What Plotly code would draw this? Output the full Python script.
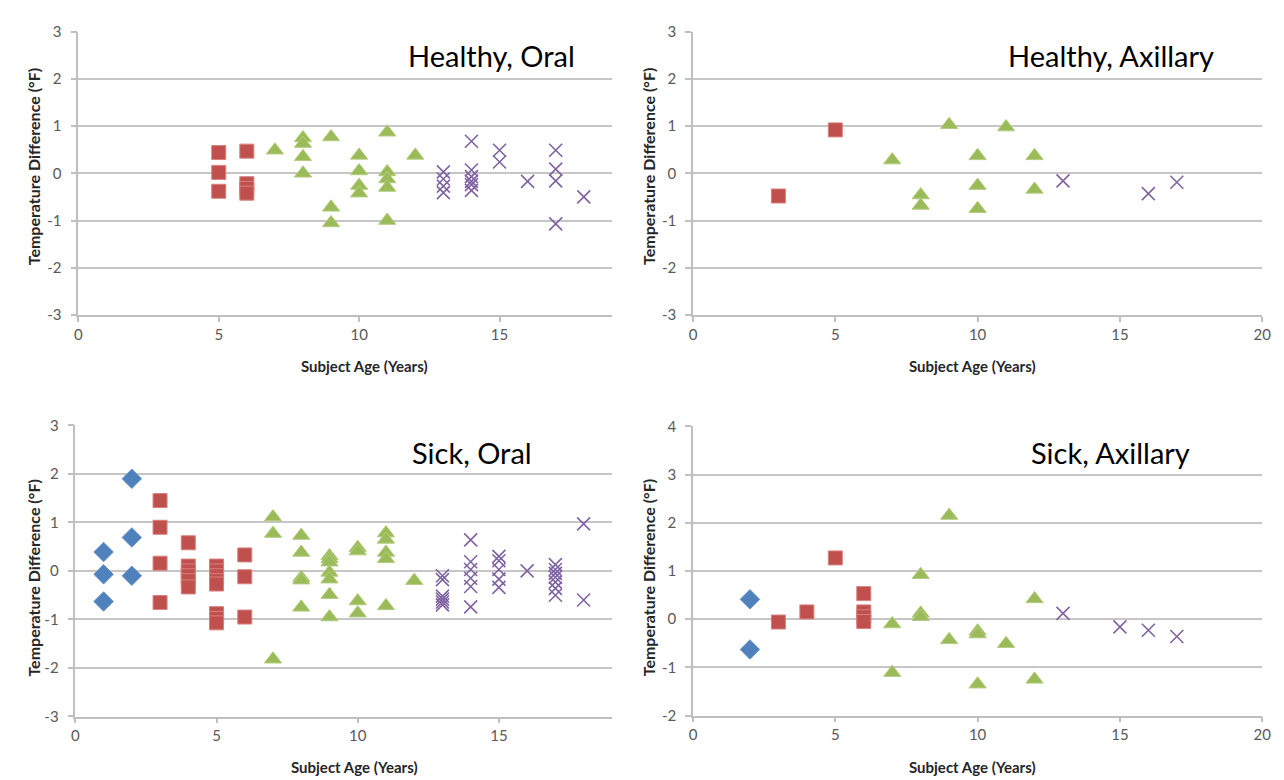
import plotly.graph_objects as go

# ---------------- DATA ----------------
# Healthy, Oral
ho_red_age = [5, 5, 5, 6, 6, 6, 6]
ho_red_diff = [0.44, 0.02, -0.38, 0.47, -0.22, -0.32, -0.42]
ho_green_age = [7, 8, 8, 8, 8, 9, 9, 9, 10, 10, 10, 10, 11, 11, 11, 11, 11, 12]
ho_green_diff = [0.49, 0.75, 0.63, 0.35, 0.0, 0.77, -0.72, -1.05, 0.38, 0.05, -0.26, -0.42,
                 0.87, 0.03, -0.12, -0.3, -1.0, 0.38]
ho_purple_age = [13, 13, 13, 13, 14, 14, 14, 14, 14, 14, 15, 15, 16, 17, 17, 17, 17, 18]
ho_purple_diff = [0.03, -0.12, -0.27, -0.41, 0.68, 0.07, -0.07, -0.17, -0.24, -0.36,
                  0.49, 0.24, -0.17, 0.49, 0.09, -0.16, -1.07, -0.5]

# Healthy, Axillary
ha_red_age = [3, 5]
ha_red_diff = [-0.48, 0.92]
ha_green_age = [7, 8, 8, 9, 10, 10, 10, 11, 12, 12]
ha_green_diff = [0.28, -0.46, -0.68, 1.03, 0.37, -0.26, -0.75, 0.98, 0.37, -0.34]
ha_purple_age = [13, 16, 17]
ha_purple_diff = [-0.16, -0.43, -0.19]

# Sick, Oral
so_blue_age = [1, 1, 1, 2, 2, 2]
so_blue_diff = [0.39, -0.07, -0.63, 1.9, 0.69, -0.1]
so_red_age = [3, 3, 3, 3, 4, 4, 4, 4, 4, 4, 5, 5, 5, 5, 5, 5, 5, 5, 6, 6, 6]
so_red_diff = [1.45, 0.9, 0.16, -0.65, 0.58, 0.1, 0.0, -0.1, -0.2, -0.33,
               0.1, 0.0, -0.1, -0.2, -0.27, -0.88, -0.98, -1.07, 0.33, -0.12, -0.95]
so_green_age = [7, 7, 7, 8, 8, 8, 8, 8, 9, 9, 9, 9, 9, 9, 9, 10, 10, 10, 10,
                11, 11, 11, 11, 11, 12]
so_green_diff = [1.11, 0.77, -1.82, 0.73, 0.38, -0.14, -0.19, -0.75,
                 0.31, 0.25, 0.18, -0.03, -0.17, -0.49, -0.95,
                 0.48, 0.41, -0.62, -0.87,
                 0.78, 0.65, 0.38, 0.25, -0.72, -0.2]
so_purple_age = [13, 13, 13, 13, 13, 13, 14, 14, 14, 14, 14, 14, 15, 15, 15, 15, 15, 16,
                 17, 17, 17, 17, 17, 17, 17, 18, 18]
so_purple_diff = [-0.1, -0.18, -0.52, -0.58, -0.64, -0.7,
                  0.64, 0.19, 0.03, -0.15, -0.32, -0.74,
                  0.3, 0.21, 0.03, -0.17, -0.34, 0.0,
                  0.13, 0.03, -0.05, -0.13, -0.23, -0.36, -0.5, 0.97, -0.6]

# Sick, Axillary
sa_blue_age = [2, 2]
sa_blue_diff = [0.41, -0.63]
sa_red_age = [3, 4, 5, 6, 6, 6, 6]
sa_red_diff = [-0.06, 0.15, 1.27, 0.53, 0.15, 0.05, -0.05]
sa_green_age = [7, 7, 8, 8, 8, 9, 9, 10, 10, 10, 11, 12, 12]
sa_green_diff = [-0.1, -1.11, 0.92, 0.12, 0.05, 2.15, -0.43, -0.25, -0.31, -1.35, -0.51, 0.42, -1.25]
sa_purple_age = [13, 15, 16, 17]
sa_purple_diff = [0.12, -0.16, -0.23, -0.36]

panel_titles = ["Healthy, Oral", "Healthy, Axillary", "Sick, Oral", "Sick, Axillary"]
x_ticks = [0, 5, 10, 15, 20]
y_ticks_a = [-3, -2, -1, 0, 1, 2, 3]
y_ticks_b = [-2, -1, 0, 1, 2, 3, 4]
x_title = "Subject Age (Years)"
y_title = "Temperature Difference (°F)"

# ---------------- STYLE ----------------
BLUE = "#4F81BD"
RED = "#C0504D"
GREEN = "#9BBB59"
PURPLE = "#8064A2"
FONT = "Lato"

styles = {
    "blue": dict(symbol="diamond", size=15, color=BLUE, line=dict(color="#6D95C9", width=1)),
    "red": dict(symbol="square", size=14, color=RED, line=dict(color="#D8807E", width=1)),
    "green": dict(symbol="triangle-up", size=15, color=GREEN, line=dict(color="#B3CC80", width=1)),
    "purple": dict(symbol="x-thin", size=13, color=PURPLE, line=dict(color=PURPLE, width=1.6)),
}

panels = [
    ("x", "y", [("red", ho_red_age, ho_red_diff), ("green", ho_green_age, ho_green_diff),
                ("purple", ho_purple_age, ho_purple_diff)]),
    ("x2", "y2", [("red", ha_red_age, ha_red_diff), ("green", ha_green_age, ha_green_diff),
                  ("purple", ha_purple_age, ha_purple_diff)]),
    ("x3", "y3", [("blue", so_blue_age, so_blue_diff), ("red", so_red_age, so_red_diff),
                  ("green", so_green_age, so_green_diff), ("purple", so_purple_age, so_purple_diff)]),
    ("x4", "y4", [("blue", sa_blue_age, sa_blue_diff), ("red", sa_red_age, sa_red_diff),
                  ("green", sa_green_age, sa_green_diff), ("purple", sa_purple_age, sa_purple_diff)]),
]

fig = go.Figure()
for xa, ya, series in panels:
    for key, ages, diffs in series:
        fig.add_trace(go.Scatter(x=ages, y=diffs, mode="markers", xaxis=xa, yaxis=ya,
                                 marker=styles[key], showlegend=False, hoverinfo="x+y"))

W, H = 1284, 780
def px_x(a, b):
    return [a / W, b / W]
def px_y(top, bottom):
    return [1 - bottom / H, 1 - top / H]

domains = [
    (px_x(67, 606), px_y(14, 304), [0, 19], y_ticks_a),
    (px_x(688, 1263), px_y(14, 304), [0, 20], y_ticks_a),
    (px_x(64, 606), px_y(417, 715), [0, 19], y_ticks_a),
    (px_x(688, 1263), px_y(418, 714), [0, 20], y_ticks_b),
]

GRID = "#C6C6C6"
layout = dict(
    width=W, height=H, margin=dict(l=0, r=0, t=0, b=0),
    paper_bgcolor="white", plot_bgcolor="white",
    font=dict(family=FONT, color="#595959", size=13),
)
for i, (dx, dy, xr, yt) in enumerate(domains):
    n = "" if i == 0 else str(i + 1)
    layout["xaxis" + n] = dict(
        domain=dx, range=xr, anchor="y" + n, tickmode="array",
        tickvals=[t for t in x_ticks if t <= xr[1]],
        showgrid=False, zeroline=False, showline=True, linecolor="#BFBFBF", linewidth=1.5,
        ticks="outside", ticklen=5, tickcolor="#BFBFBF", tickwidth=1.5,
        tickfont=dict(family=FONT, size=15, color="#595959"), fixedrange=True,
    )
    layout["yaxis" + n] = dict(
        domain=dy, range=[yt[0], yt[-1]], anchor="x" + n, tickmode="array",
        tickvals=yt, ticktext=[str(v) for v in yt], ticklabelstandoff=6,
        showgrid=True, gridcolor=GRID, gridwidth=1.5, zeroline=False,
        showline=True, linecolor="#BFBFBF", linewidth=1.5,
        ticks="outside", ticklen=6, tickcolor="#BFBFBF", tickwidth=1.5,
        tickfont=dict(family=FONT, size=15, color="#595959"), fixedrange=True,
    )
fig.update_layout(**layout)

# panel titles
title_pos = [(484, 38), (1110, 38), (465, 445), (1110, 445)]
for t, (cx, cy) in zip(panel_titles, title_pos):
    fig.add_annotation(text=t, x=cx / W, y=1 - cy / H, xref="paper", yref="paper",
                       xanchor="center", yanchor="middle", showarrow=False,
                       font=dict(family=FONT, size=29, color="#000000"))

# axis titles
xt_pos = [(356, 356), (970, 356), (346, 767), (970, 767)]
for cx, cy in xt_pos:
    fig.add_annotation(text="<b>" + x_title + "</b>", x=cx / W, y=1 - cy / H, xref="paper",
                       yref="paper", xanchor="center", yanchor="middle", showarrow=False,
                       font=dict(family=FONT, size=15, color="#262626"))
yt_pos = [(22, 152), (643, 152), (22, 573), (643, 573)]
for cx, cy in yt_pos:
    fig.add_annotation(text="<b>" + y_title + "</b>", x=cx / W, y=1 - cy / H, xref="paper",
                       yref="paper", xanchor="center", yanchor="middle", showarrow=False,
                       textangle=-90, font=dict(family=FONT, size=16, color="#262626"))

fig.write_html("out.html")
